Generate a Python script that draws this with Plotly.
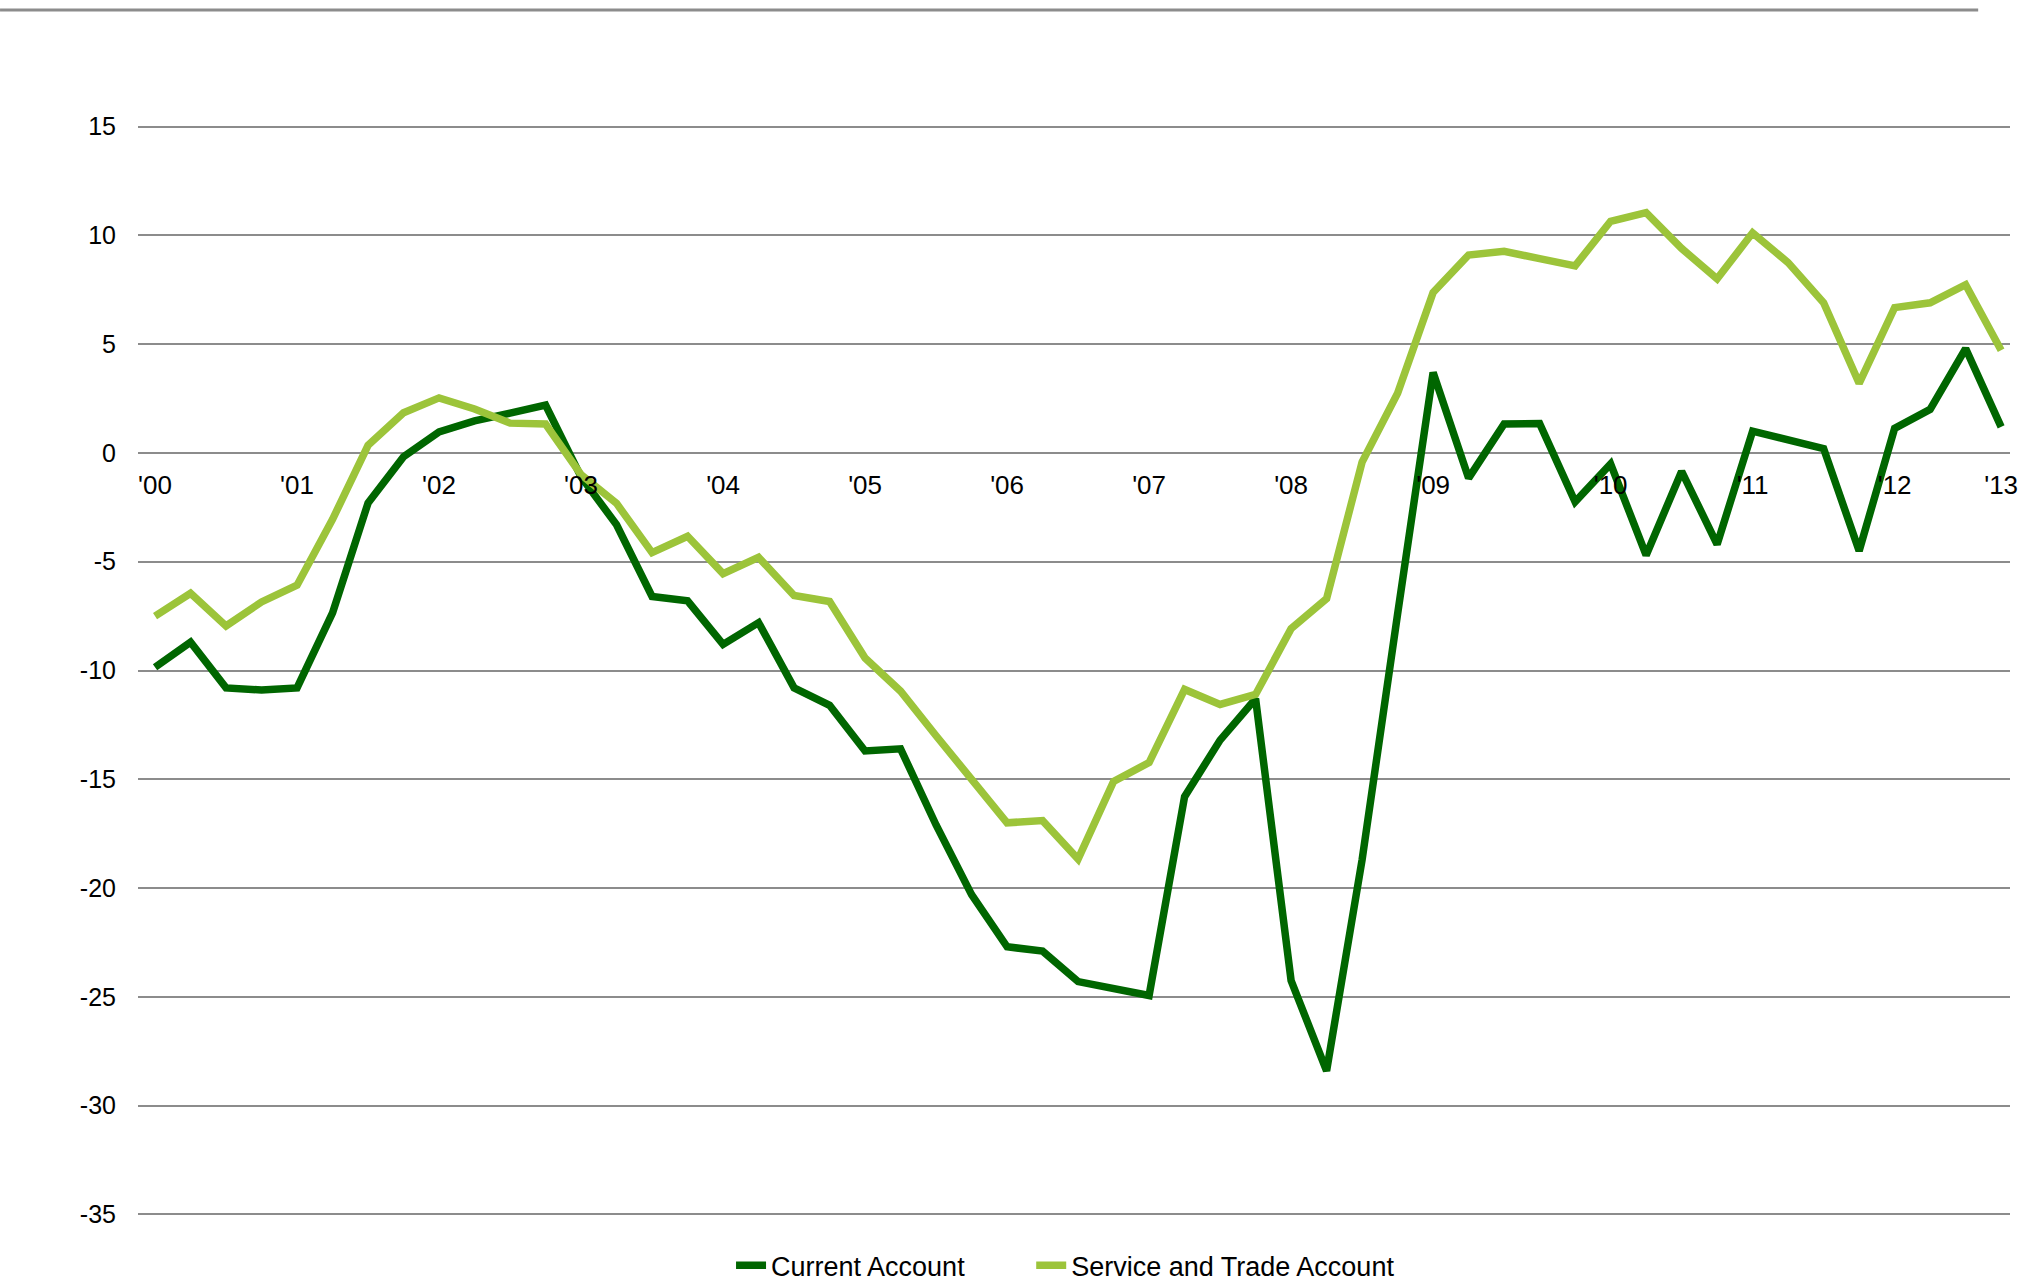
import plotly.graph_objects as go

# Quarterly observations, 2000 Q1 .. 2013 Q1 (index = quarter number)
quarters = list(range(53))

current_account = [
    -9.85, -8.7, -10.8, -10.9, -10.8, -7.35, -2.3, -0.17,
    0.97, 1.47, 1.83, 2.2, -1.1, -3.3, -6.6, -6.8,
    -8.8, -7.8, -10.8, -11.6, -13.7, -13.6, -17.1, -20.3,
    -22.7, -22.9, -24.3, -24.66, -24.94, -15.8, -13.2, -11.3,
    -24.25, -28.4, -18.7, -7.4, 3.7, -1.16, 1.33, 1.35,
    -2.25, -0.5, -4.7, -0.85, -4.2, 1.0, 0.6, 0.2,
    -4.5, 1.13, 2.0, 4.8, 1.2,
]

service_trade = [
    -7.5, -6.45, -7.95, -6.85, -6.08, -3.05, 0.35, 1.85,
    2.53, 2.02, 1.37, 1.33, -1.0, -2.32, -4.58, -3.83,
    -5.55, -4.8, -6.55, -6.83, -9.43, -10.95, -13.0, -15.0,
    -17.0, -16.9, -18.67, -15.1, -14.23, -10.87, -11.56, -11.1,
    -8.08, -6.7, -0.42, 2.74, 7.38, 9.1, 9.27, 8.93,
    8.6, 10.65, 11.05, 9.4, 8.0, 10.12, 8.75, 6.9,
    3.2, 6.68, 6.9, 7.73, 4.72,
]

tick_positions = [0, 4, 8, 12, 16, 20, 24, 28, 32, 36, 41, 45, 49, 52]
tick_labels = ["'00", "'01", "'02", "'03", "'04", "'05", "'06", "'07",
               "'08", "'09", "'10", "'11", "'12", "'13"]

y_ticks = [15, 10, 5, 0, -5, -10, -15, -20, -25, -30, -35]
y_tick_labels = ["15", "10", "5", "0", "-5", "-10", "-15", "-20", "-25", "-30", "-35"]

FONT = "Liberation Sans, Arial, sans-serif"
GRID = "#8c8c8c"

Y_MIN, Y_MAX = -35.12, 15.12

fig = go.Figure()
fig.add_trace(go.Scatter(
    x=quarters, y=current_account, mode="lines", name="Current Account",
    line=dict(color="#006600", width=7.5), legend="legend",
))
fig.add_trace(go.Scatter(
    x=quarters, y=service_trade, mode="lines", name="Service and Trade Account",
    line=dict(color="#9CC43A", width=7.5), legend="legend2",
))

legend_common = dict(orientation="h", xref="container", yref="container",
                     xanchor="left", y=0.0135, yanchor="middle",
                     font=dict(size=27, family=FONT), itemwidth=30,
                     bgcolor="rgba(0,0,0,0)")

fig.update_layout(
    width=2020, height=1283,
    margin=dict(l=138, r=10, t=124, b=66, autoexpand=False),
    paper_bgcolor="white", plot_bgcolor="white",
    font=dict(family=FONT, size=25, color="#000000"),
    showlegend=True,
    legend=dict(x=0.3619, **legend_common),
    legend2=dict(x=0.5105, **legend_common),
    xaxis=dict(
        range=[-0.48, 52.25], showgrid=False, zeroline=False, showline=False,
        tickmode="array", tickvals=tick_positions, ticktext=tick_labels,
        ticks="", anchor="free", position=(0 - Y_MIN) / (Y_MAX - Y_MIN),
        ticklabelstandoff=14, automargin=False,
        tickfont=dict(size=26, family=FONT),
    ),
    yaxis=dict(
        range=[Y_MIN, Y_MAX], tickmode="array", tickvals=y_ticks,
        ticktext=y_tick_labels,
        showgrid=True, gridcolor=GRID, gridwidth=2,
        zeroline=True, zerolinecolor=GRID, zerolinewidth=2,
        showline=False, ticks="", ticklabelstandoff=21, automargin=False,
        tickfont=dict(size=25, family=FONT),
    ),
    shapes=[dict(type="line", xref="paper", yref="paper",
                 x0=-0.0737, x1=0.983, y0=1 + (124 - 10) / 1093,
                 y1=1 + (124 - 10) / 1093,
                 line=dict(color=GRID, width=3))],
)

fig.write_html("out.html",
               config={"displayModeBar": False},
               post_script="document.body.style.margin='0';document.body.style.padding='0';")
